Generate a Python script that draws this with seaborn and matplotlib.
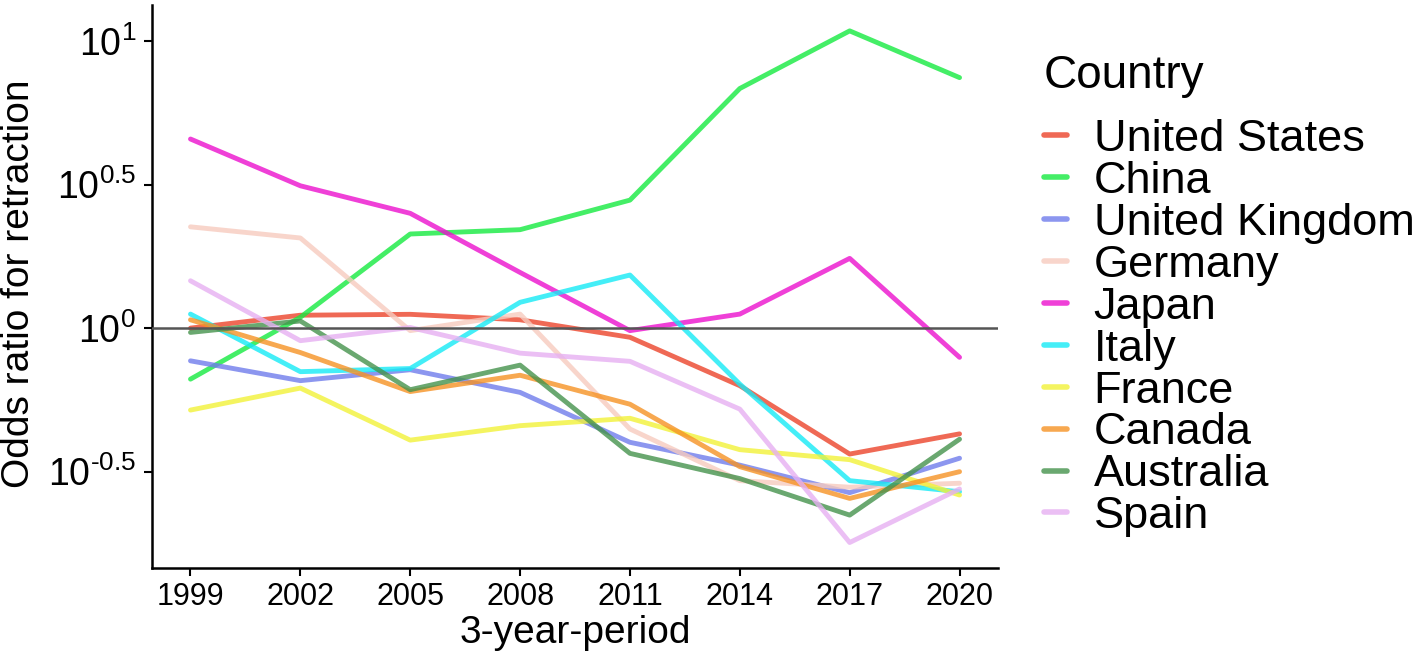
import pandas as pd
import numpy as np
import matplotlib
matplotlib.use("Agg")
import matplotlib.pyplot as plt
import seaborn as sns

periods = [1999, 2002, 2005, 2008, 2011, 2014, 2017, 2020]
countries = ["United States", "China", "United Kingdom", "Germany", "Japan",
             "Italy", "France", "Canada", "Australia", "Spain"]

united_states = [1.00, 1.109, 1.117, 1.069, 0.929, 0.630, 0.364, 0.428]
china = [0.664, 1.091, 2.128, 2.203, 2.793, 6.839, 10.86, 7.464]
united_kingdom = [0.769, 0.656, 0.716, 0.597, 0.400, 0.333, 0.267, 0.352]
germany = [2.254, 2.061, 0.980, 1.119, 0.445, 0.294, 0.279, 0.288]
japan = [4.560, 3.133, 2.512, 1.563, 0.980, 1.119, 1.750, 0.791]
italy = [1.119, 0.705, 0.723, 1.230, 1.531, 0.638, 0.294, 0.269]
france = [0.518, 0.618, 0.407, 0.457, 0.485, 0.377, 0.348, 0.262]
canada = [1.069, 0.822, 0.601, 0.685, 0.543, 0.329, 0.255, 0.316]
australia = [0.966, 1.059, 0.610, 0.743, 0.366, 0.299, 0.223, 0.410]
spain = [1.462, 0.904, 1.005, 0.818, 0.766, 0.522, 0.179, 0.275]

series = [united_states, china, united_kingdom, germany, japan,
          italy, france, canada, australia, spain]
colors = ["#EC442B", "#15EA40", "#6F7CEC", "#F7CBBF", "#EC10CE",
          "#15EAF6", "#F2F238", "#F69224", "#45924C", "#E6B0F2"]

rows = []
for name, vals in zip(countries, series):
    for p, v in zip(periods, vals):
        rows.append({"Period": p, "Odds": v, "Country": name})
df = pd.DataFrame(rows)

sns.set_style("ticks")
plt.rcParams["font.family"] = ["Liberation Sans", "DejaVu Sans"]
plt.rcParams["mathtext.fontset"] = "custom"
plt.rcParams["mathtext.rm"] = "Liberation Sans"
plt.rcParams["mathtext.default"] = "regular"
plt.rcParams["text.color"] = "black"
plt.rcParams["axes.labelcolor"] = "black"
plt.rcParams["xtick.color"] = "black"
plt.rcParams["ytick.color"] = "black"
plt.rcParams["axes.edgecolor"] = "black"

fig = plt.figure(figsize=(14.17, 6.62), dpi=100)
ax = fig.add_axes([0.1073, 0.142, 0.597, 0.850])

sns.lineplot(data=df, x="Period", y="Odds", hue="Country", hue_order=countries,
             palette=dict(zip(countries, colors)), linewidth=3.5, alpha=0.8,
             ax=ax, legend=True)
ax.axhline(1, color="#555555", linewidth=1.8, zorder=5)

ax.set_yscale("log")
ax.set_ylim(10 ** -0.836, 10 ** 1.125)
ax.set_xlim(1997.95, 2021.05)
yt = [10 ** -0.5, 1, 10 ** 0.5, 10]
ax.set_yticks(yt)
ax.set_yticklabels(["$10^{\u20100.5}$", "$10^{0}$", "$10^{0.5}$", "$10^{1}$"])
ax.yaxis.set_minor_locator(matplotlib.ticker.NullLocator())
ax.set_xticks(periods)
ax.set_xticklabels([str(p) for p in periods])

ax.tick_params(axis="x", labelsize=22, length=6, width=1.5, pad=4)
ax.tick_params(axis="y", labelsize=27, length=6, width=1.5, pad=5.5)
for s in ["left", "bottom"]:
    ax.spines[s].set_linewidth(1.8)
sns.despine(ax=ax)

ax.set_xlabel("3-year-period", fontsize=28, labelpad=2)
ax.set_ylabel("Odds ratio for retraction", fontsize=28)
ax.yaxis.set_label_coords(-0.136, 0.505)

handles, labels = ax.get_legend_handles_labels()
for h in handles:
    h.set_linewidth(4)
leg = ax.legend(handles, labels, title="Country", loc="upper left",
                bbox_to_anchor=(1.033, 0.945), frameon=False, fontsize=32.5,
                title_fontsize=33, handlelength=0.5, handletextpad=0.6,
                labelspacing=0.02, borderaxespad=0)
leg._legend_box.align = "left"
leg._legend_box.sep = 15

fig.savefig("out.png", dpi=100)
